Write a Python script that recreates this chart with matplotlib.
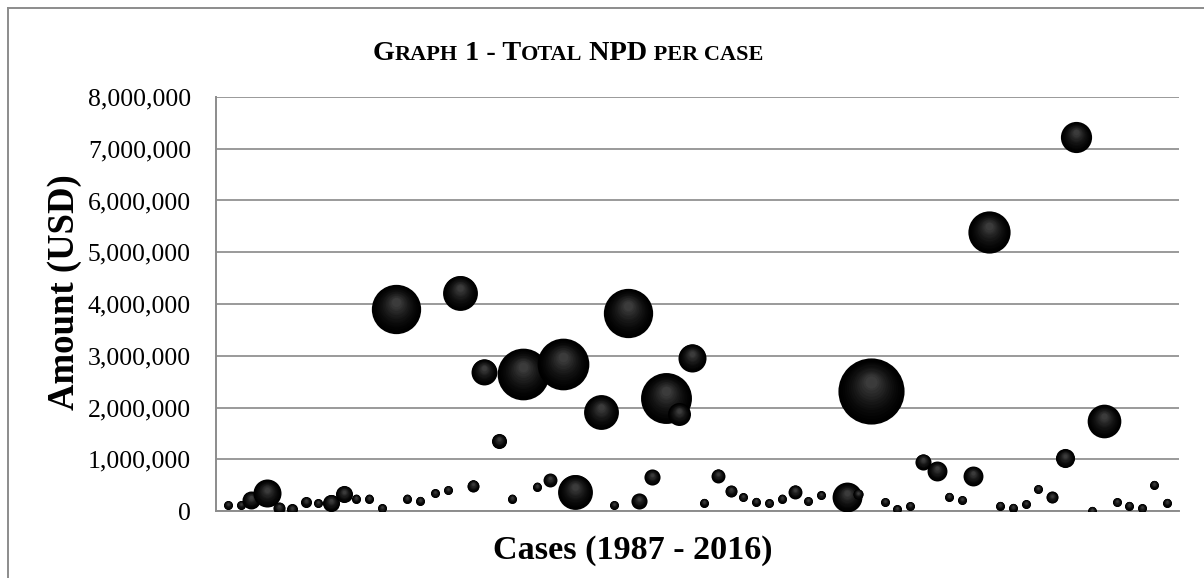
import numpy as np
import matplotlib
matplotlib.use("Agg")
import matplotlib.pyplot as plt
from matplotlib.ticker import FuncFormatter
from matplotlib.transforms import ScaledTranslation
from matplotlib.lines import Line2D

plt.rcParams["font.family"] = ["Liberation Serif", "DejaVu Serif"]

# case position along the x axis (cases ordered 1987 - 2016)
case_pos = [
    0.93, 1.87, 2.63, 3.86, 4.77, 5.76, 6.80, 7.70, 8.71, 9.70,
    10.61, 11.59, 12.58, 13.61, 14.45, 15.48, 16.57, 17.55, 18.48, 19.45,
    20.33, 21.42, 22.40, 23.23, 24.30, 25.30, 26.31, 27.20, 29.14, 30.15,
    31.19, 32.07, 33.03, 34.09, 35.08, 36.04, 36.95, 38.01, 38.99, 39.92,
    40.89, 41.89, 42.90, 43.86, 44.85, 45.81, 47.78, 48.61, 49.62, 50.66,
    51.61, 52.60, 53.54, 54.60, 55.53, 56.49, 57.37, 58.56, 59.39, 60.36,
    61.34, 62.30, 63.33, 64.32, 65.15, 66.34, 67.27, 68.23, 69.17, 70.13,
    71.08, 72.07,
]

# total NPD per case (USD)
amounts = [
    115000, 115000, 213000, 340000, 58000, 33000, 174000, 149000, 160000, 328000,
    238000, 238000, 52000, 3903000, 238000, 199000, 342000, 406000, 4218000, 489000,
    2692000, 1353000, 238000, 2647000, 470000, 599000, 2835000, 373000, 1907000, 116000,
    3832000, 193000, 651000, 2178000, 1874000, 2962000, 160000, 682000, 386000, 265000,
    180000, 149000, 238000, 373000, 193000, 303000, 265000, 328000, 2319000, 174000,
    33000, 97000, 953000, 773000, 276000, 213000, 676000, 5391000, 102000, 64000,
    135000, 425000, 265000, 1018000, 7230000, 6000, 1739000, 168000, 102000, 52000,
    508000, 160000,
]

# bubble weight (third variable, relative)
weights = [
    1, 1, 4, 9.7, 1.8, 1.5, 1.5, 1, 3.6, 3.6,
    1, 1, 1, 30, 1, 1, 1, 1, 15, 1.8,
    8.3, 2.8, 1, 33, 1, 2.4, 33, 15, 15, 1,
    30, 3.2, 3.2, 32, 6.5, 9.7, 1, 2.4, 1.8, 1,
    1, 1, 1, 2.4, 1, 1, 11, 1.3, 54, 1,
    1, 1, 3.2, 4.9, 1, 1, 4.9, 22, 1, 1,
    1, 1, 1.8, 4.5, 12, 1, 14, 1, 1, 1,
    1, 1,
]

y_ticks = [0, 1000000, 2000000, 3000000, 4000000, 5000000, 6000000, 7000000, 8000000]

fig = plt.figure(figsize=(12.04, 5.78), dpi=100)
ax = fig.add_axes([0.1794, 0.1159, 0.7998, 0.7163])

ax.set_xlim(0, 72.95)
ax.set_ylim(0, 8000000)
ax.set_yticks(y_ticks)
ax.yaxis.set_major_formatter(FuncFormatter(lambda v, p: f"{int(v):,}"))
ax.set_xticks([])
ax.tick_params(axis="y", length=0, pad=18, labelsize=18.5)
ax.grid(axis="y", color="#9a9a9a", linewidth=1.4)
ax.set_axisbelow(True)
for side in ["top", "right"]:
    ax.spines[side].set_visible(False)
ax.spines["left"].set_color("#8c8c8c")
ax.spines["bottom"].set_color("#8c8c8c")
ax.spines["left"].set_linewidth(1.4)
ax.spines["bottom"].set_linewidth(1.4)

# shaded spheres: stacked circles, lighter toward an upper highlight
n_layers = 14
base = 42.0
for i, (x, y, w) in enumerate(zip(case_pos, amounts, weights)):
    s = w * base
    r = np.sqrt(s) / 2
    for k in range(n_layers):
        t = k / n_layers
        frac = 1 - 0.88 * t
        g = 0.26 * t ** 1.6
        dy = 0.30 * r * t
        tr = ax.transData + ScaledTranslation(0, dy / 72, fig.dpi_scale_trans)
        ax.scatter([x], [y], s=s * frac ** 2, color=(g, g, g), linewidths=0,
                   transform=tr, zorder=3 + i * 0.01 + k * 0.0001)

ax.set_ylabel("Amount (USD)", fontsize=26.5, fontweight="bold")
ax.yaxis.set_label_coords(-0.139, 0.529)
ax.set_xlabel("Cases (1987 - 2016)", fontsize=24.6, fontweight="bold")
ax.xaxis.set_label_coords(0.433, -0.057)

# small-caps title built from pieces
pieces = [("G", 20.3), ("RAPH", 16), (" 1 - T", 20.3), ("OTAL", 16), (" NPD", 20.3), (" PER CASE", 16)]
renderer = fig.canvas.get_renderer()
texts = []
xpos = 0
for txt, size in pieces:
    t = fig.text(0, 0, txt, fontsize=size, fontweight="bold", va="baseline", ha="left")
    w_px = t.get_window_extent(renderer).width
    texts.append((t, xpos))
    xpos += w_px
W, H = fig.bbox.width, fig.bbox.height
start = 568 - xpos / 2
for t, off in texts:
    t.set_position(((start + off) / W, 1 - 60 / H))

# chart area border (top and left edges visible)
fig.add_artist(Line2D([8 / W, 1.0], [1 - 8 / H, 1 - 8 / H], color="#8c8c8c", linewidth=1.4))
fig.add_artist(Line2D([8 / W, 8 / W], [0.0, 1 - 8 / H], color="#8c8c8c", linewidth=1.4))

fig.savefig("out.png", dpi=100)
